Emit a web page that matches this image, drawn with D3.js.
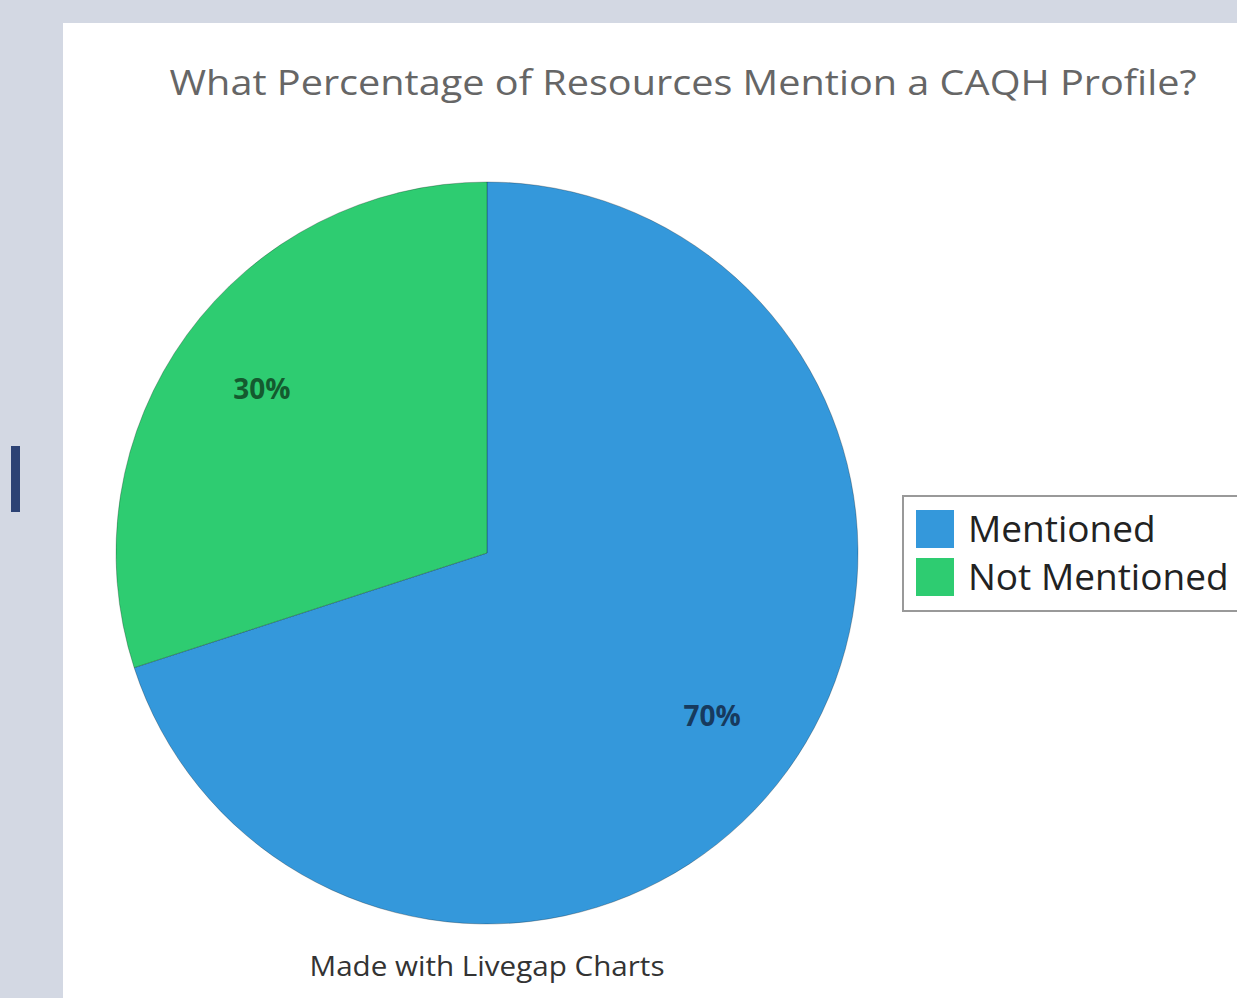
<!DOCTYPE html>
<html>
<head>
<meta charset="utf-8">
<script src="https://cdn.jsdelivr.net/npm/d3@7"></script>
<style>
  body { margin: 0; background: #d3d8e3; }
  svg { display: block; }
</style>
</head>
<body>
<div id="chart"></div>
<script>
// data
var categories = ["Mentioned", "Not Mentioned"];
var values = [70, 30];
var labels = ["70%", "30%"];
var colors = ["#3498db", "#2ecc71"];
var labelColors = ["#173a5e", "#145a2f"];

var W = 1237, H = 998;

var svg = d3.select("#chart")
  .append("svg")
  .attr("width", W)
  .attr("height", H);

// page background and white panel
svg.append("rect").attr("width", W).attr("height", H).attr("fill", "#d3d8e3");
svg.append("rect").attr("x", 11).attr("y", 446).attr("width", 9).attr("height", 66).attr("fill", "#2c4274");
svg.append("rect").attr("x", 63).attr("y", 23).attr("width", W - 63).attr("height", H - 23).attr("fill", "#fff");

// title (source image is stretched a bit horizontally)
svg.append("text")
  .attr("x", 683).attr("y", 95)
  .attr("text-anchor", "middle")
  .attr("textLength", 1027)
  .attr("lengthAdjust", "spacingAndGlyphs")
  .style("font-family", "Open Sans")
  .style("font-size", "35px")
  .style("fill", "#666")
  .text("What Percentage of Resources Mention a CAQH Profile?");

var cx = 487, cy = 553, radius = 371;

var pie = d3.pie().sort(null).value(function (d) { return d; });
var arcs = pie(values);

var arc = d3.arc().innerRadius(0).outerRadius(radius);
var labelArc = d3.arc().innerRadius(radius * 0.75).outerRadius(radius * 0.75);

var g = svg.append("g").attr("transform", "translate(" + cx + "," + cy + ")");

g.selectAll("path")
  .data(arcs)
  .enter()
  .append("path")
  .attr("d", arc)
  .attr("fill", function (d, i) { return colors[i]; })
  .attr("stroke", "rgba(0,0,0,0.25)")
  .attr("stroke-width", 1);

g.selectAll(".lbl")
  .data(arcs)
  .enter()
  .append("text")
  .attr("class", "lbl")
  .attr("transform", function (d) { return "translate(" + labelArc.centroid(d) + ")"; })
  .attr("text-anchor", "middle")
  .attr("dy", "0.35em")
  .style("font-family", "Open Sans")
  .style("font-weight", "bold")
  .style("font-size", "28px")
  .style("fill", function (d, i) { return labelColors[i]; })
  .text(function (d, i) { return labels[i]; });

// legend
var legend = svg.append("g");
legend.append("rect")
  .attr("x", 903).attr("y", 496)
  .attr("width", 360).attr("height", 115)
  .attr("fill", "#fff")
  .attr("stroke", "#999")
  .attr("stroke-width", 2);

var items = legend.selectAll(".item")
  .data(categories)
  .enter()
  .append("g")
  .attr("transform", function (d, i) { return "translate(916," + (510 + i * 48) + ")"; });

items.append("rect")
  .attr("width", 38).attr("height", 38)
  .attr("fill", function (d, i) { return colors[i]; });

items.append("text")
  .attr("x", 52).attr("y", 32)
  .style("font-family", "Open Sans")
  .style("font-size", "37px")
  .style("fill", "#222")
  .text(function (d) { return d; });

// footer
svg.append("text")
  .attr("x", 487).attr("y", 976)
  .attr("text-anchor", "middle")
  .attr("textLength", 355)
  .attr("lengthAdjust", "spacingAndGlyphs")
  .style("font-family", "Open Sans")
  .style("font-size", "27px")
  .style("fill", "#333")
  .text("Made with Livegap Charts");
</script>
</body>
</html>
